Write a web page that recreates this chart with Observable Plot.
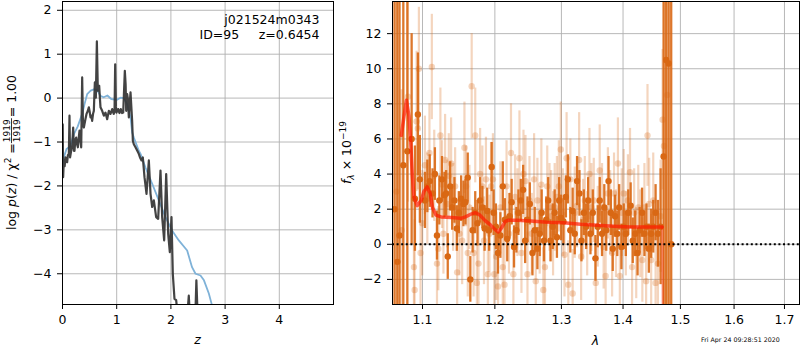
<!DOCTYPE html>
<html><head><meta charset="utf-8">
<script src="https://cdn.jsdelivr.net/npm/d3@7"></script>
<script src="https://cdn.jsdelivr.net/npm/@observablehq/plot@0.6"></script>
<style>
body{margin:0;background:#fff;}
#wrap{position:relative;width:800px;height:350px;overflow:hidden;font-family:"DejaVu Sans",sans-serif;background:#fff;}
.pane{position:absolute;top:0;}
</style></head><body><div id="wrap"><div id="pl" class="pane" style="left:0px;width:340px;"></div><div id="pr" class="pane" style="left:340px;width:460px;"></div></div>
<script>
// ---------- left panel: p(z) ----------
const zTicks = [0, 1, 2, 3, 4];
const pTicks = [-4, -3, -2, -1, 0, 1, 2];
const blueZ = [0.0,0.025,0.074,0.141,0.21,0.28,0.363,0.41,0.455,0.52,0.578,0.64,0.701,0.76,0.828,0.9,1.0,1.07,1.13,1.193,1.255,1.285,1.316,1.408,1.44,1.531,1.655,1.777,1.9,2.024,2.146,2.30,2.39,2.454,2.546,2.61,2.70,2.75,2.8];
const blueP = [-1.5,-1.35,-1.16,-1.1,-0.82,-0.65,-0.36,-0.12,0.09,0.17,0.2,0.18,0.05,0.02,0.06,-0.02,-0.04,0.01,0.0,-0.14,-0.44,-0.78,-0.9,-1.2,-1.27,-1.58,-1.95,-2.33,-2.71,-3.02,-3.24,-3.47,-3.85,-4.0,-4.04,-4.15,-4.45,-4.68,-4.9];
const blackZ = [0.004,0.012,0.025,0.04,0.055,0.07,0.086,0.1,0.117,0.129,0.14,0.16,0.179,0.197,0.21,0.221,0.237,0.252,0.268,0.283,0.3,0.314,0.33,0.345,0.363,0.378,0.394,0.42,0.443,0.465,0.486,0.5,0.517,0.532,0.547,0.565,0.578,0.597,0.615,0.634,0.652,0.677,0.69,0.701,0.732,0.763,0.793,0.824,0.855,0.886,0.917,0.945,0.96,0.972,0.985,0.996,1.027,1.05,1.075,1.1,1.12,1.15,1.165,1.175,1.193,1.205,1.224,1.255,1.285,1.298,1.316,1.347,1.38,1.408,1.43,1.458,1.482,1.513,1.55,1.593,1.624,1.655,1.685,1.728,1.765,1.808,1.839,1.876,1.913,1.95,1.98,2.011,2.035,2.066,2.097,2.13,2.2,2.3,2.33,2.36,2.45,2.47,2.5,2.6];
const blackP = [-0.6,-1.8,-1.4,-1.55,-1.35,-1.45,-1.46,-1.3,-1.27,-0.4,-1.35,-1.2,-1.08,-0.67,-1.2,-1.2,-0.95,-0.9,-1.05,-1.12,-0.9,-0.74,-0.95,-1.12,0.47,-0.6,-0.67,-0.5,-0.36,-0.3,-0.21,-0.3,-0.44,-0.4,-0.52,-0.35,-0.29,0.36,0.01,1.29,0.17,0.28,0.0,-0.21,-0.29,-0.4,-0.33,-0.48,-0.29,-0.36,-0.25,-0.36,-0.3,0.77,-0.2,-0.33,-0.25,-0.34,-0.25,-0.34,-0.33,0.62,0.3,-0.29,0.09,0.0,-0.44,0.13,-0.52,-0.97,-1.05,-1.12,-1.2,-1.27,-1.35,-1.42,-1.35,-1.8,-2.18,-1.42,-2.18,-2.48,-2.33,-2.71,-2.75,-1.65,-2.71,-3.24,-1.73,-3.09,-3.51,-2.71,-4.0,-4.57,-4.6,-5.0,-5.2,-5.0,-4.5,-5.2,-5.0,-4.15,-5.2,-5.5];
const rootName = "j021524m0343";
const idLabel = "ID=95";
const zLabel = "z=0.6454";

// ---------- right panel: spectrum ----------
const lamTicks = [1.1, 1.2, 1.3, 1.4, 1.5, 1.6, 1.7];
const fTicks = [-2, 0, 2, 4, 6, 8, 10, 12];
const darkWave = [1.0636,1.0672,1.0700,1.0749,1.0801,1.0857,1.0900,1.0939,1.0965,1.1032,1.1064,1.1096,1.1133,1.1165,1.1193,1.1225,1.1261,1.1294,1.1317,1.1339,1.1372,1.1399,1.1431,1.1463,1.1491,1.1523,1.1555,1.1583,1.1615,1.1651,1.1683,1.1720,1.1752,1.1789,1.1821,1.1853,1.1890,1.1917,1.1954,1.1982,1.2015,1.2045,1.2080,1.2115,1.2145,1.2180,1.2215,1.2245,1.2280,1.2315,1.2345,1.2380,1.2415,1.2445,1.2480,1.2515,1.2555,1.2590,1.2630,1.2665,1.2695,1.2730,1.2765,1.2795,1.2830,1.2865,1.2895,1.2930,1.2965,1.2995,1.3032,1.3070,1.3102,1.3140,1.3177,1.3210,1.3247,1.3285,1.3317,1.3355,1.3392,1.3425,1.3462,1.3500,1.3543,1.3581,1.3613,1.3651,1.3688,1.3720,1.3758,1.3796,1.3828,1.3866,1.3903,1.3935,1.3973,1.4012,1.4047,1.4088,1.4129,1.4165,1.4206,1.4247,1.4282,1.4324,1.4365,1.4400,1.4441,1.4482,1.4518,1.4559,1.4600,1.4647,1.4700,1.4745,1.4790,1.4835];
const darkFlux = [2,-1,0.5,4.5,5.3,6.0,2.6,7.4,3.7, 2.5,3.3,3.6,2.9,4.0,0.5,2.5,3.7,2.8,2.9,-0.7,3.3,2.1,2.5,0.9,1.8,2.6,2.3,2.4,3.8,-2.0,0.8,1.8,1.2,2.5,2.1,0.9,1.9,0.8,4.4,1.8, 1.0,-0.5,0.5,3.3,1.4,0.3,1.6,2.4,-0.15,0.8,1.8,2.5,3.1,0.2,1.4,2.3,-0.5,0.8,-0.25,0.6,1.8,0.2,1.4,2.5,0.2,1.0,1.8,0.4,2.5,1.5, 1.3,2.7,3.7,0.8,1.9,0.6,3.6,2.9,0.2,1.8,1.0,2.5,0.6,1.8,-0.8,1.0,2.5,0.6,2.1,0.8,3.6,1.8,-0.25,1.6,0.6,2.1,-0.15, 1.0,0.6,1.8,2.2,0.2,0.6,-0.5,0.8,1.8,0.6,1.0,-0.25,0.6,1.0,1.8,0.6,1.0, 5.0,10.5,10.3,0.0];
const darkErr = [30,30,25,12,10,6,3,3.5,2.5, 1.6,1.5,1.5,1.4,1.5,1.4,1.4,1.3,1.3,1.3,1.3,1.4,1.3,1.3,1.3,1.2,1.3,1.3,1.3,1.4,1.3,1.3,1.2,1.3,1.3,1.2,1.3,1.3,1.2,1.4,1.3, 1.3,1.2,1.3,1.4,1.2,1.3,1.3,1.3,1.2,1.3,1.3,1.2,1.4,1.3,1.3,1.2,1.3,1.3,1.2,1.3,1.3,1.2,1.3,1.3,1.2,1.3,1.3,1.2,1.3,1.3, 1.3,1.2,1.4,1.3,1.3,1.2,1.4,1.3,1.2,1.3,1.3,1.3,1.2,1.3,1.3,1.2,1.3,1.3,1.3,1.2,1.4,1.3,1.3,1.2,1.3,1.3,1.3, 1.3,1.3,1.3,1.3,1.3,1.3,1.3,1.3,1.4,1.3,1.3,1.4,1.4,1.5,1.6,1.9,3.3, 30,30,30,30];
const lightWave = [1.0660,1.0727,1.0809,1.0887,1.0896,1.0922,1.0939,1.0952,1.0974,1.0996,1.1032,1.1064,1.1092,1.1124,1.1156,1.1193,1.1211,1.1239,1.1261,1.1280,1.1303,1.1330,1.1353,1.1385,1.1413,1.1440,1.1468,1.1500,1.1537,1.1569,1.1592,1.1615,1.1638,1.1670,1.1697,1.1720,1.1743,1.1766,1.1789,1.1821,1.1844,1.1872,1.1899,1.1922,1.1945,1.1972,1.1991,1.2020,1.2045,1.2080,1.2115,1.2140,1.2170,1.2205,1.2235,1.2270,1.2295,1.2330,1.2360,1.2390,1.2420,1.2450,1.2480,1.2510,1.2545,1.2580,1.2605,1.2630,1.2665,1.2690,1.2720,1.2745,1.2780,1.2815,1.2840,1.2870,1.2895,1.2930,1.2960,1.2990,1.3022,1.3048,1.3081,1.3108,1.3140,1.3177,1.3210,1.3247,1.3280,1.3312,1.3344,1.3371,1.3409,1.3446,1.3478,1.3516,1.3548,1.3581,1.3613,1.3651,1.3677,1.3710,1.3747,1.3785,1.3817,1.3849,1.3882,1.3914,1.3946,1.3978,1.4012,1.4047,1.4082,1.4118,1.4153,1.4188,1.4224,1.4259,1.4294,1.4329,1.4365,1.4394,1.4418,1.4447,1.4482,1.4518,1.4559,1.4600,1.4647,1.4682,1.4706,1.4765];
const lightFlux = [3,0.8,8.4,-1.3,-2.6,7.0,6.6,10.0,-0.5,1.2, 4.5,2.6,5.2,10.1,3.9,-1.1,-0.25,6.2,3.4,0.6,4.8,2.3,3.9,4.6,2.1,3.3,-1.6,0.6,0.2,5.5,3.3,-0.5,2.1,9.0,-0.5,6.2,-2.2,-1.1,4.0,3.3,0.2,3.7,-1.7,0.6,3.3,3.7,-1.7, -0.7,-2.4,2.1,-1.3,-2.3,3.3,0.6,5.2,-1.7,2.7,1.8,4.9,-0.5,4.0,3.6,-1.7,2.5,0.6,3.7,-2.1,2.5,0.8,3.4,-2.6,-1.3,3.3,2.1,1.6,0.6,2.1,2.7,3.3,5.4, 1.8,-0.6,4.9,-2.3,3.7,-2.8,1.8,2.2,4.8,-0.7,1.4,2.5,0.6,4.0,2.1,2.5,-2.2,1.0,4.2,2.1,-0.15,-1.8,2.9,1.8,-0.5,2.9,0.6,4.6,-1.8,1.8, 2.9,0.6,2.5,4.1,-1.3,1.8,-0.5,2.1,0.6,-0.9,2.1,-2.1,6.2,2.3,-0.9,2.5,-2.2,-1.1,1.6,7.1,5.6,8.5];
const lightErr = [30,8,6,4,4,4,3.5,3.5,3,3, 2.8,2.6,2.8,3.0,2.6,2.5,2.4,2.7,2.5,2.3,2.6,2.5,2.4,2.6,2.5,2.2,2.5,2.4,2.5,2.6,2.3,2.5,2.4,3.0,2.5,2.7,2.4,2.5,2.6,2.3,2.5,2.4,2.5,2.2,2.5,2.6,2.4, 2.5,2.3,2.6,2.4,2.5,2.6,2.3,2.8,2.5,2.4,2.5,2.7,2.3,2.5,2.6,2.4,2.5,2.3,2.6,2.5,2.4,2.5,2.6,2.4,2.5,2.3,2.5,2.6,2.4,2.5,2.3,2.6,2.7, 2.5,2.4,2.6,2.5,2.3,2.5,2.6,2.4,2.7,2.5,2.3,2.5,2.4,2.6,2.5,2.4,2.5,2.3,2.6,2.5,2.4,2.5,2.6,2.4,2.5,2.3,2.5,2.6,2.4,2.5, 2.5,2.4,2.6,2.5,2.4,2.5,2.6,2.4,2.5,2.4,2.5,2.5,2.9,2.6,2.6,2.7,2.8,3.0,3.2,4,30,30];
const modelWave = [1.0723,1.0758,1.0790,1.0822,1.0844,1.0865,1.0887,1.0930,1.0983,1.1018,1.1062,1.1101,1.1133,1.1179,1.1248,1.1385,1.1523,1.1583,1.1650,1.1724,1.1790,1.1860,1.1937,1.2000,1.2050,1.2100,1.2150,1.2200,1.2330,1.2530,1.2780,1.3032,1.3306,1.3575,1.3845,1.4118,1.4412,1.4676];
const modelFlux = [6.2,7.3,8.2,7.3,5.9,4.0,2.7,2.2,2.5,3.0,3.27,2.9,2.1,1.66,1.56,1.52,1.48,1.56,1.7,1.8,1.65,1.35,1.1,0.85,0.7,0.95,1.3,1.37,1.37,1.33,1.26,1.22,1.14,1.09,1.03,0.99,0.99,0.99];
const modelEdgeWave = [1.4676, 1.4715];
const modelEdgeFlux = [0.99, -20];
const stamp = "Fri Apr 24 09:28:51 2020";

// ---------- build tables ----------
const blue = blueZ.map((z,i)=>({z, p: blueP[i]}));
const black = blackZ.map((z,i)=>({z, p: blackP[i]}));
const dark = darkWave.map((w,i)=>({w, f: darkFlux[i], e: darkErr[i]}));
const light = lightWave.map((w,i)=>({w, f: lightFlux[i], e: lightErr[i]}));
const model = modelWave.map((w,i)=>({w, f: modelFlux[i]}));
const modelEdge = modelEdgeWave.map((w,i)=>({w, f: modelEdgeFlux[i]}));

const FONT = "DejaVu Sans, sans-serif";
const FS = 12.5;
const ORANGE = "#d96814";
const GRID = "#b0b0b0";
const fmtMinus = d => d < 0 ? "\u2212" + Math.abs(d) : String(d);
const baseStyle = {fontFamily: FONT, fontSize: FS + "px", color: "#000", background: "transparent", overflow: "visible"};

const left = Plot.plot({
  width: 340, height: 350, marginLeft: 62, marginRight: 7, marginTop: 1, marginBottom: 46,
  style: baseStyle,
  x: {domain: [0, 5], ticks: zTicks, tickFormat: d => String(d), tickSize: 5, tickPadding: 6, label: null},
  y: {domain: [-4.7, 2.2], ticks: pTicks, tickFormat: fmtMinus, tickSize: 5, tickPadding: 6, label: null},
  marks: [
    Plot.ruleX(zTicks, {stroke: GRID, strokeWidth: 0.9}),
    Plot.ruleY(pTicks, {stroke: GRID, strokeWidth: 0.9}),
    Plot.line(blue, {x: "z", y: "p", stroke: "#7fb2d8", strokeWidth: 1.8, clip: true}),
    Plot.line(black, {x: "z", y: "p", stroke: "#333", strokeOpacity: 0.92, strokeWidth: 2.2, clip: true}),
    Plot.frame({stroke: "#000", strokeWidth: 1}),
    Plot.text([rootName], {text: d => d, frameAnchor: "top-right", lineAnchor: "top", dx: -14, dy: 14, fontSize: FS}),
    Plot.text([idLabel], {text: d => d, frameAnchor: "top-left", textAnchor: "start", lineAnchor: "top", dx: 137, dy: 29, fontSize: FS}),
    Plot.text([zLabel], {text: d => d, frameAnchor: "top-right", lineAnchor: "top", dx: -14, dy: 29, fontSize: FS})
  ]
});
document.getElementById("pl").append(left);

const right = Plot.plot({
  width: 460, height: 350, marginLeft: 52, marginRight: 1, marginTop: 1, marginBottom: 46,
  style: baseStyle,
  x: {type: "log", domain: [1.061, 1.731], ticks: lamTicks, tickFormat: d => d.toFixed(1), tickSize: 5, tickPadding: 6, label: null},
  y: {domain: [-3.43, 13.83], ticks: fTicks, tickFormat: fmtMinus, tickSize: 5, tickPadding: 6, label: null},
  marks: [
    Plot.ruleX(lamTicks, {stroke: GRID, strokeWidth: 0.9}),
    Plot.ruleY(fTicks, {stroke: GRID, strokeWidth: 0.9}),
    Plot.ruleX(light, {x: "w", y1: d => d.f - d.e, y2: d => d.f + d.e, stroke: ORANGE, strokeOpacity: 0.28, strokeWidth: 2.2, clip: true}),
    Plot.dot(light, {x: "w", y: "f", r: 3.2, fill: ORANGE, fillOpacity: 0.28, stroke: "none", clip: true}),
    Plot.ruleX(dark, {x: "w", y1: d => d.f - d.e, y2: d => d.f + d.e, stroke: ORANGE, strokeOpacity: 0.9, strokeWidth: 2.3, clip: true}),
    Plot.dot(dark, {x: "w", y: "f", r: 3.2, fill: ORANGE, stroke: "none", clip: true}),
    Plot.line(model, {x: "w", y: "f", stroke: "#ff1a00", strokeOpacity: 0.7, strokeWidth: 3.5, clip: true}),
    Plot.line(modelEdge, {x: "w", y: "f", stroke: "#ff1a00", strokeOpacity: 0.3, strokeWidth: 2.5, clip: true}),
    Plot.ruleY([0], {stroke: "#000", strokeWidth: 2, strokeDasharray: "2,2.6"}),
    Plot.frame({stroke: "#000", strokeWidth: 1})
  ]
});
document.getElementById("pr").append(right);

// ---------- axis titles & stamp (overlay) ----------
const ov = d3.select("#wrap").append("svg")
  .attr("width", 800).attr("height", 350)
  .style("position", "absolute").style("left", "0px").style("top", "0px")
  .style("pointer-events", "none")
  .attr("font-family", FONT).attr("fill", "#000");

// left y label: log p(z) / χ² = 1919/1919 = 1.00
const gL = ov.append("g");
const t1 = gL.append("text").attr("font-size", FS).attr("x", 0).attr("y", 0);
t1.append("tspan").text("log ");
t1.append("tspan").attr("font-style", "italic").text("p");
t1.append("tspan").text("(");
t1.append("tspan").attr("font-style", "italic").text("z");
t1.append("tspan").text(") / \u03c7");
t1.append("tspan").attr("font-size", 9).attr("dy", -5).text("2");
t1.append("tspan").attr("dy", 5).text(" = ");
const L1 = t1.node().getComputedTextLength();
const num = gL.append("text").attr("font-size", 9).attr("x", L1 + 1).attr("y", -5.5).text("1919");
const wn = num.node().getComputedTextLength();
gL.append("text").attr("font-size", 9).attr("x", L1 + 1).attr("y", 4.2).text("1919");
gL.append("line").attr("x1", L1).attr("x2", L1 + wn + 2).attr("y1", -4).attr("y2", -4).attr("stroke", "#000").attr("stroke-width", 0.8);
const t3 = gL.append("text").attr("font-size", FS).attr("x", L1 + wn + 3).attr("y", 0).text(" = 1.00");
const T = L1 + wn + 3 + t3.node().getComputedTextLength();
gL.attr("transform", `translate(15.5,${152.5 + T / 2}) rotate(-90)`);

// right y label: f_λ × 10^-19
const gR = ov.append("g");
const r1 = gR.append("text").attr("font-size", FS).attr("x", 0).attr("y", 0);
r1.append("tspan").attr("font-style", "italic").text("f");
r1.append("tspan").attr("font-size", 9).attr("font-style", "italic").attr("dy", 3).text("\u03bb");
r1.append("tspan").attr("dy", -3).text(" \u00d7 10");
r1.append("tspan").attr("font-size", 9).attr("dy", -5).text("\u221219");
const TR = r1.node().getComputedTextLength();
gR.attr("transform", `translate(351,${152.5 + TR / 2}) rotate(-90)`);

// x labels
ov.append("text").attr("x", 197.5).attr("y", 344).attr("text-anchor", "middle").attr("font-size", FS).attr("font-style", "italic").text("z");
ov.append("text").attr("x", 595.5).attr("y", 345).attr("text-anchor", "middle").attr("font-size", FS).attr("font-style", "italic").text("\u03bb");
ov.append("text").attr("x", 701).attr("y", 342).attr("font-size", 6.3).text(stamp);
</script></body></html>
